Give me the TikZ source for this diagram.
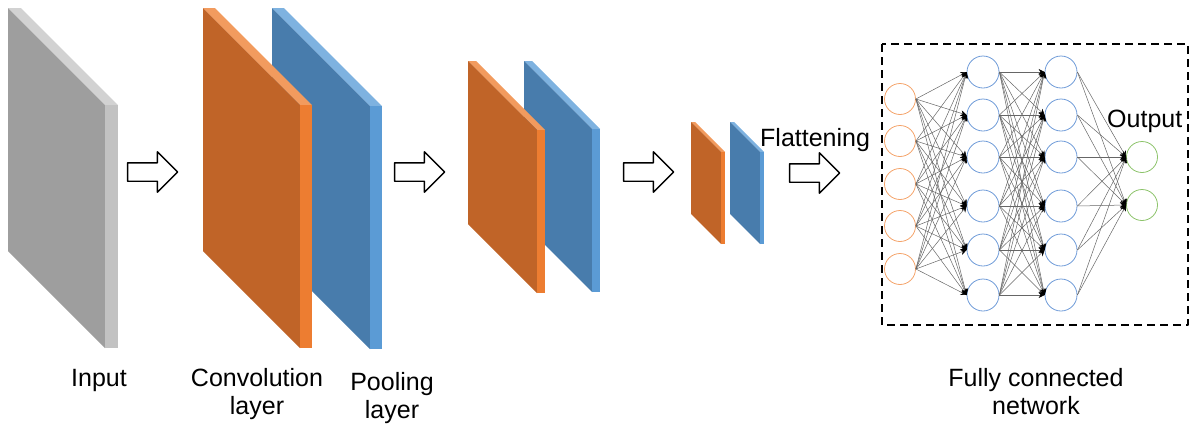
\documentclass[tikz,border=0pt]{standalone}
\usepackage{fontspec}
\setmainfont{Liberation Sans}
\usetikzlibrary{shapes.arrows,arrows.meta}

\definecolor{grayfront}{HTML}{9E9E9E}
\definecolor{graytop}{HTML}{D2D2D2}
\definecolor{grayside}{HTML}{C2C2C2}
\definecolor{orfront}{HTML}{C06428}
\definecolor{ortop}{HTML}{F29B5E}
\definecolor{orside}{HTML}{ED7D31}
\definecolor{blfront}{HTML}{487CAC}
\definecolor{bltop}{HTML}{7EB2E0}
\definecolor{blside}{HTML}{5B9BD5}
\definecolor{inring}{HTML}{F4A36A}
\definecolor{hidring}{HTML}{6F9BD8}
\definecolor{outring}{HTML}{8CC36A}

% feature map slab: left, top, width, height, depth, front, top, side colour
\newcommand{\slab}[8]{%
  \fill[#7] (#1,#2) -- ++(#5,0) -- ++(#3,#3) -- ++(-#5,0) -- cycle;
  \fill[#6] (#1,#2) -- ++(#3,#3) -- ++(0,#4) -- ++(-#3,-#3) -- cycle;
  \fill[#8] (#1+#3,#2+#3) -- ++(#5,0) -- ++(0,#4) -- ++(-#5,0) -- cycle;
}

\begin{document}
\begin{tikzpicture}[x=1pt, y=-1pt, line join=round,
    font=\fontsize{25}{28}\selectfont,
    lbl/.style={inner sep=0pt, align=center},
    stage/.style={single arrow, draw=black, line width=1.4pt, fill=white,
      inner sep=8.5pt, minimum height=50pt, single arrow head extend=11pt},
    neuron/.style={circle, line width=0.8pt, minimum size=31pt, inner sep=0pt},
    conn/.style={draw=black!60, line width=0.5pt, -{Stealth[length=6pt,width=6pt,color=black]}}]
  \useasboundingbox (0,0) rectangle (1192,429);

  % slabs
  \slab{8}{8}{97}{243}{13}{grayfront}{graytop}{grayside}
  \slab{272}{8}{98}{243}{12}{blfront}{bltop}{blside}
  \slab{203}{8}{97}{243}{12}{orfront}{ortop}{orside}
  \slab{524}{61}{68}{163}{8}{blfront}{bltop}{blside}
  \slab{468}{61}{69}{163}{8}{orfront}{ortop}{orside}
  \slab{730}{122}{30}{92}{4}{blfront}{bltop}{blside}
  \slab{691}{122}{30}{92}{4}{orfront}{ortop}{orside}

  % block arrows between stages
  \node[stage] (a1) at (148,172) {};
  \node[stage] (a2) at (415,172) {};
  \node[stage] (a3) at (644,172) {};
  \node[stage] (a4) at (810,173) {};

  % fully connected part
  \draw[dashed, line width=1.6pt, dash pattern=on 8pt off 5pt] (882,44) rectangle (1188,325);
  \foreach \i/\y in {1/99,2/141,3/184,4/226,5/269}
    \node[neuron, draw=inring] (in\i) at (900,\y) {};
  \foreach \i/\y in {1/72,2/115,3/157,4/206,5/250,6/295}{
    \node[neuron, minimum size=32pt, draw=hidring] (ha\i) at (983,\y) {};
    \node[neuron, minimum size=32pt, draw=hidring] (hb\i) at (1061,\y) {};
  }
  \foreach \i/\y in {1/157,2/205}
    \node[neuron, draw=outring] (out\i) at (1142,\y) {};
  \foreach \i in {1,...,5} \foreach \j in {1,...,6} \draw[conn] (in\i.east) -- (ha\j.west);
  \foreach \i in {1,...,6} \foreach \j in {1,...,6} \draw[conn] (ha\i.east) -- (hb\j.west);
  \foreach \i in {1,...,6} \foreach \j in {1,2} \draw[conn] (hb\i.east) -- (out\j.west);

  % labels (two-line ones sit on their last baseline)
  \node[lbl, anchor=base west] (flat) at (760,146) {Flattening};
  \node[lbl, anchor=base west] (outlbl) at (1107,127) {Output};
  \node[lbl, anchor=base] (inlbl) at (99,386) {Input};
  \node[lbl, anchor=base] (convlbl) at (257,414) {Convolution\\layer};
  \node[lbl, anchor=base] (poollbl) at (392,418) {Pooling\\layer};
  \node[lbl, anchor=base] (fclbl) at (1036,414) {Fully connected\\network};
\end{tikzpicture}
\end{document}
